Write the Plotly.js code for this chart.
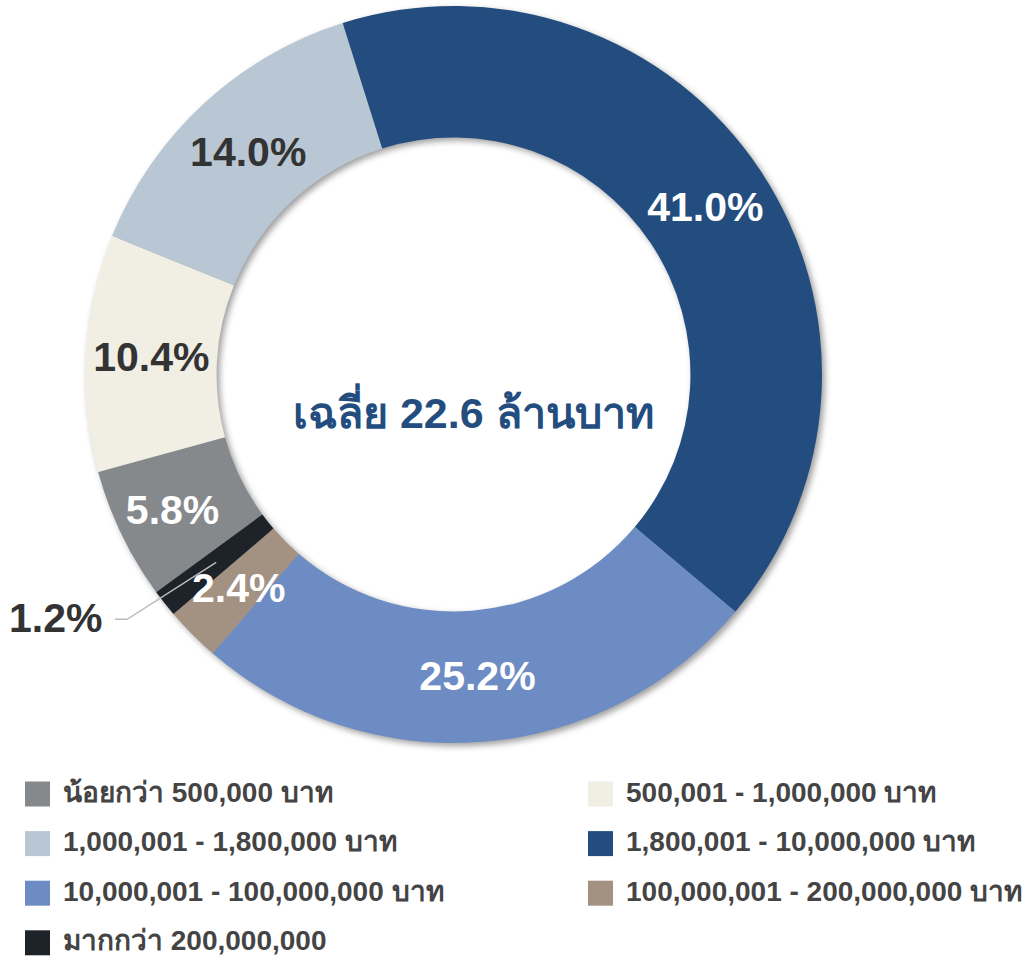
<!DOCTYPE html>
<html>
<head>
<meta charset="utf-8">
<script src="https://cdn.plot.ly/plotly-3.0.1.min.js"></script>
<style>
html,body{margin:0;padding:0;background:#ffffff;}
#chart{width:1028px;height:956px;}
.pielayer .trace:first-child{filter:blur(3px);}
</style>
</head>
<body>
<div id="chart"></div>
<script>
// ---- data ----
const labels = [
  'น้อยกว่า 500,000 บาท',
  '500,001 - 1,000,000 บาท',
  '1,000,001 - 1,800,000 บาท',
  '1,800,001 - 10,000,000 บาท',
  '10,000,001 - 100,000,000 บาท',
  '100,000,001 - 200,000,000 บาท',
  'มากกว่า 200,000,000'
];
const shares = [5.8, 10.4, 14.0, 41.0, 25.2, 2.4, 1.2];
const centerText = 'เฉลี่ย 22.6 ล้านบาท';

// ---- style ----
const colors = ['#86898C', '#F1EEE4', '#B8C7D3', '#234D7E', '#6C8CC3', '#A39182', '#1E2229'];
const textColors = ['#ffffff', '#333333', '#333333', '#ffffff', '#ffffff', '#ffffff', '#333333'];
const placement = ['inside', 'inside', 'inside', 'inside', 'inside', 'ring', 'outside'];
const FONT = '"Liberation Sans", Arial, sans-serif';
const W = 1028, H = 956;
const cx = 453.5, cy = 374.5, R = 368.5, HOLE = 0.643;
const darkStartAngle = -17.5; // boundary where the largest slice starts (deg, clockwise from 12 o'clock)
const PCT_SIZE = 41;

const total = shares.reduce((a, b) => a + b, 0);
const before = shares.slice(0, 3).reduce((a, b) => a + b, 0);
const rotation = darkStartAngle - 360 * before / total;

const px2x = p => p / W;
const px2y = p => 1 - p / H;
const domain = {x: [px2x(cx - R), px2x(cx + R)], y: [px2y(cy + R), px2y(cy - R)]};
const sh = 3;
const shadowDomain = {x: [px2x(cx - R + sh), px2x(cx + R + sh)], y: [px2y(cy + R + sh), px2y(cy - R + sh)]};

function polar(angDeg, r) {
  const a = angDeg * Math.PI / 180;
  return [cx + r * Math.sin(a), cy - r * Math.cos(a)];
}

const shadow = {
  type: 'pie', values: [1], labels: ['shadow'], hole: HOLE, sort: false,
  domain: shadowDomain, marker: {colors: ['rgba(0,0,0,0.38)'], line: {width: 0}},
  textinfo: 'none', hoverinfo: 'skip', showlegend: false
};

const pie = {
  type: 'pie',
  labels: labels,
  values: shares,
  hole: HOLE,
  sort: false,
  direction: 'clockwise',
  rotation: rotation,
  domain: domain,
  marker: {colors: colors, line: {width: 0}},
  texttemplate: '%{value:.1f}%',
  textposition: placement.map(p => p === 'inside' ? 'inside' : 'none'),
  insidetextorientation: 'horizontal',
  insidetextfont: {family: FONT, size: PCT_SIZE, weight: 'bold', color: textColors},
  hoverinfo: 'label+percent',
  showlegend: false
};

const annotations = [];
const shapes = [];

// small-slice labels positioned from slice geometry
let cum = 0;
const rMid = R * (1 + HOLE) / 2;
shares.forEach((v, i) => {
  const a0 = rotation + 360 * cum / total;
  cum += v;
  const mid = a0 + 360 * v / 2 / total;
  const txt = v.toFixed(1) + '%';
  if (placement[i] === 'ring') {
    const p = polar(mid, rMid);
    annotations.push({
      xref: 'paper', yref: 'paper', x: px2x(p[0]), y: px2y(p[1]),
      xanchor: 'center', yanchor: 'middle', showarrow: false, text: '<b>' + txt + '</b>',
      font: {family: FONT, size: PCT_SIZE, color: textColors[i]}
    });
  } else if (placement[i] === 'outside') {
    const p0 = polar(mid, rMid);
    const p1 = polar(mid + 1.5, 408);
    const p2 = [p1[0] - 12, p1[1]];
    shapes.push({
      type: 'path', xref: 'paper', yref: 'paper',
      path: 'M' + px2x(p0[0]) + ',' + px2y(p0[1]) + ' L' + px2x(p1[0]) + ',' + px2y(p1[1]) + ' L' + px2x(p2[0]) + ',' + px2y(p2[1]),
      line: {color: '#BBBBBB', width: 1.5}
    });
    annotations.push({
      xref: 'paper', yref: 'paper', x: px2x(p2[0] - 11), y: px2y(p2[1] - 1),
      xanchor: 'right', yanchor: 'middle', showarrow: false, text: '<b>' + txt + '</b>',
      font: {family: FONT, size: PCT_SIZE, color: textColors[i]}
    });
  }
});

// center text
annotations.push({
  xref: 'paper', yref: 'paper', x: px2x(473), y: px2y(410),
  xanchor: 'center', yanchor: 'middle', showarrow: false,
  text: '<b>' + centerText + '</b>',
  font: {family: FONT, size: 43, color: '#234D7E'}
});

// custom legend (2 columns)
const legCols = [25, 588], legRow0 = 794, legRowStep = 49.6, sw = 25;
labels.forEach((lab, i) => {
  const col = i % 2, row = Math.floor(i / 2);
  const x0 = legCols[col], yc = legRow0 + row * legRowStep;
  shapes.push({
    type: 'rect', xref: 'paper', yref: 'paper',
    x0: px2x(x0), x1: px2x(x0 + sw), y0: px2y(yc + sw / 2), y1: px2y(yc - sw / 2),
    fillcolor: colors[i], line: {width: 0}
  });
  annotations.push({
    xref: 'paper', yref: 'paper', x: px2x(x0 + sw + 11), y: px2y(yc - 2),
    xanchor: 'left', yanchor: 'middle', showarrow: false,
    text: '<b>' + lab + '</b>',
    font: {family: FONT, size: 28, color: '#444444'}
  });
});

const layout = {
  width: W, height: H,
  margin: {l: 0, r: 0, t: 0, b: 0},
  paper_bgcolor: '#ffffff',
  plot_bgcolor: '#ffffff',
  font: {family: FONT},
  showlegend: false,
  annotations: annotations,
  shapes: shapes
};

Plotly.newPlot('chart', [shadow, pie], layout, {displayModeBar: false, staticPlot: true});
</script>
</body>
</html>
